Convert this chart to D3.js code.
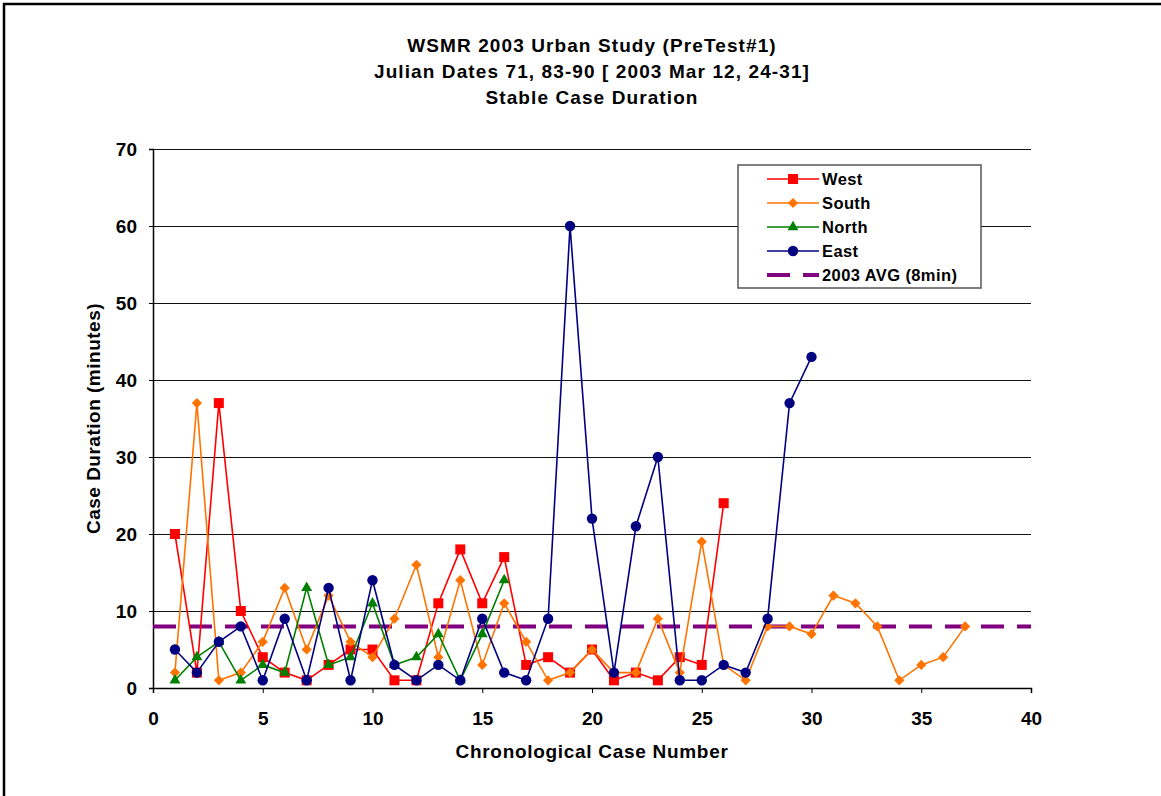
<!DOCTYPE html>
<html>
<head>
<meta charset="utf-8">
<script src="https://cdn.jsdelivr.net/npm/d3@7"></script>
<style>
  body { margin: 0; background: #fff; }
  text { font-family: "Liberation Sans", Arial, sans-serif; font-weight: bold; }
</style>
</head>
<body>
<div id="canvas"></div>
<script>
// case durations (minutes) by chronological case number
const west  = [20, 2, 37, 10, 4, 2, 1, 3, 5, 5, 1, 1, 11, 18, 11, 17, 3, 4, 2, 5, 1, 2, 1, 4, 3, 24]
const south = [2, 37, 1, 2, 6, 13, 5, 12, 6, 4, 9, 16, 4, 14, 3, 11, 6, 1, 2, 5, 2, 2, 9, 2, 19, 3, 1, 8, 8, 7, 12, 11, 8, 1, 3, 4, 8]
const north = [1, 4, 6, 1, 3, 2, 13, 3, 4, 11, 3, 4, 7, 1, 7, 14]
const east  = [5, 2, 6, 8, 1, 9, 1, 13, 1, 14, 3, 1, 3, 1, 9, 2, 1, 9, 60, 22, 2, 21, 30, 1, 1, 3, 2, 9, 37, 43]
const avg2003 = 8
const xTicks = [0, 5, 10, 15, 20, 25, 30, 35, 40]
const yTicks = [0, 10, 20, 30, 40, 50, 60, 70]
const titleLines = ["WSMR 2003 Urban Study (PreTest#1)", "Julian Dates 71, 83-90 [ 2003 Mar 12, 24-31]", "Stable Case Duration"]

const series = [
  {name: "West",  values: west,  color: "#ff0000", shape: "square"},
  {name: "South", values: south, color: "#ff7300", shape: "diamond"},
  {name: "North", values: north, color: "#008000", shape: "triangle"},
  {name: "East",  values: east,  color: "#000080", shape: "circle"}
]

const width = 1161
const height = 796
const margin = {top: 149, left: 153, bottom: 108, right: 130}
const iwidth = width - margin.left - margin.right
const iheight = height - margin.top - margin.bottom

const svg = d3.select("#canvas").append("svg")
  .attr("width", width)
  .attr("height", height)

svg.append("rect")
  .attr("x", 4).attr("y", 4)
  .attr("width", 1300).attr("height", 1000)
  .style("fill", "none").style("stroke", "#000").style("stroke-width", 2.5)

const tl = svg.append("text")
  .attr("text-anchor", "middle")
  .style("font-size", "19px")
  .style("letter-spacing", "1.1px")
titleLines.forEach((t, i) => {
  tl.append("tspan").attr("x", margin.left + iwidth / 2).attr("y", 52 + i * 26).text(t)
})

const g = svg.append("g").attr("transform", `translate(${margin.left},${margin.top})`)

const x = d3.scaleLinear().domain([0, 40]).range([0, iwidth])
const y = d3.scaleLinear().domain([0, 70]).range([iheight, 0])

// gridlines
g.append("g")
  .selectAll("line").data(yTicks.filter(d => d > 0))
  .enter().append("line")
  .attr("x1", 0).attr("x2", iwidth)
  .attr("y1", d => Math.round(y(d)) + 0.5).attr("y2", d => Math.round(y(d)) + 0.5)
  .style("stroke", "#111").style("stroke-width", 1)

const xAxis = g.append("g")
  .attr("transform", `translate(0,${iheight})`)
  .call(d3.axisBottom(x).tickValues(xTicks).tickSize(5).tickPadding(19).tickFormat(d3.format("d")))
const yAxis = g.append("g")
  .call(d3.axisLeft(y).tickValues(yTicks).tickSize(4).tickPadding(12).tickFormat(d3.format("d")))

;[xAxis, yAxis].forEach(a => {
  a.selectAll("text").style("font-size", "19px").style("font-family", "Liberation Sans, Arial, sans-serif").style("font-weight", "bold").attr("fill", "#000")
  a.select(".domain").attr("stroke", "#000").attr("stroke-width", 1.5)
  a.selectAll(".tick line").attr("stroke", "#000")
})
yAxis.selectAll("text").attr("dy", "0.35em")

// average line
g.append("line")
  .attr("x1", 0).attr("x2", iwidth)
  .attr("y1", y(avg2003)).attr("y2", y(avg2003))
  .style("stroke", "#800080").style("stroke-width", 4)
  .style("stroke-dasharray", "23,13")

const symbolType = {square: d3.symbolSquare, diamond: d3.symbolSquare, triangle: d3.symbolTriangle, circle: d3.symbolCircle}
const symbolSize = {square: 100, diamond: 52, triangle: 52, circle: 85}
const symbolRot = {square: 0, diamond: 45, triangle: 0, circle: 0}

const line = d3.line().x((d, i) => x(i + 1)).y(d => y(d))

series.forEach(s => {
  g.append("path")
    .datum(s.values)
    .attr("d", line)
    .style("fill", "none")
    .style("stroke", s.color)
    .style("stroke-width", 1.6)
  g.selectAll(".pt-" + s.name).data(s.values)
    .enter().append("path")
    .attr("class", "pt-" + s.name)
    .attr("transform", (d, i) => `translate(${x(i + 1)},${y(d)}) rotate(${symbolRot[s.shape]})`)
    .attr("d", d3.symbol().type(symbolType[s.shape]).size(symbolSize[s.shape]))
    .style("fill", s.color)
})

// legend
const lg = svg.append("g").attr("transform", "translate(738,165)")
lg.append("rect")
  .attr("width", 243).attr("height", 123)
  .style("fill", "#fff").style("stroke", "#555").style("stroke-width", 1.5)
const legendItems = series.concat([{name: "2003 AVG (8min)", color: "#800080", shape: null}])
legendItems.forEach((s, i) => {
  const row = lg.append("g").attr("transform", `translate(0,${14 + i * 24})`)
  if (s.shape) {
    row.append("line").attr("x1", 29).attr("x2", 81).attr("y1", 0).attr("y2", 0)
      .style("stroke", s.color).style("stroke-width", 1.6)
    row.append("path")
      .attr("transform", `translate(55,0) rotate(${symbolRot[s.shape]})`)
      .attr("d", d3.symbol().type(symbolType[s.shape]).size(symbolSize[s.shape]))
      .style("fill", s.color)
  } else {
    row.append("line").attr("x1", 29).attr("x2", 81).attr("y1", 0).attr("y2", 0)
      .style("stroke", s.color).style("stroke-width", 4).style("stroke-dasharray", "23,13")
  }
  row.append("text").attr("x", 84).attr("y", 0).attr("dy", "0.35em")
    .style("font-size", "16.5px").style("letter-spacing", "0.4px").text(s.name)
})

// axis titles
svg.append("text")
  .attr("x", margin.left + iwidth / 2).attr("y", 758)
  .attr("text-anchor", "middle").style("font-size", "19px").style("letter-spacing", "0.7px")
  .text("Chronological Case Number")
svg.append("text")
  .attr("transform", `translate(100,${margin.top + iheight / 2}) rotate(-90)`)
  .attr("text-anchor", "middle").style("font-size", "19px").style("letter-spacing", "0.5px")
  .text("Case Duration (minutes)")
</script>
</body>
</html>
